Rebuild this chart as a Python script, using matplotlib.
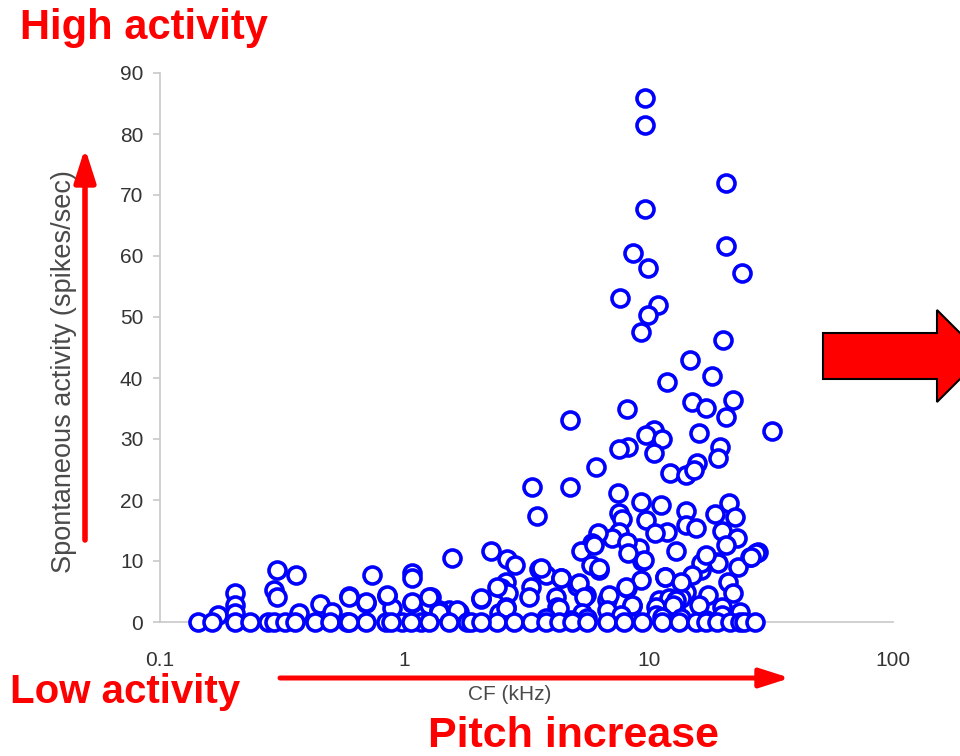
import numpy as np
import matplotlib
matplotlib.use("Agg")
import matplotlib.pyplot as plt
from matplotlib.patches import Polygon
from matplotlib.ticker import FixedLocator, FixedFormatter

# characteristic frequency (kHz) and spontaneous rate (spikes/sec) per unit
high_cf = [9.64, 9.64, 20.8, 9.64, 20.8, 8.6, 9.9, 24.2, 7.62, 10.9, 9.9, 9.3,
           20.2, 14.8, 18.2, 11.9, 22.2, 15.0, 17.1, 8.13, 20.8, 4.76, 32.0,
           16.1, 10.5, 9.73, 11.3, 19.5, 19.3, 8.26, 7.55, 10.5, 6.08, 15.8,
           12.2, 14.2, 15.4]
high_rate = [85.9, 81.5, 72.0, 67.7, 61.6, 60.5, 58.0, 57.2, 53.1, 52.0, 50.3,
             47.5, 46.2, 43.0, 40.3, 39.3, 36.4, 36.0, 35.1, 34.9, 33.6, 33.1,
             31.3, 31.0, 31.5, 30.7, 30.0, 28.7, 26.9, 28.7, 28.4, 27.7, 25.4,
             26.1, 24.4, 24.1, 24.9]

mid_cf = [3.33, 4.76, 3.49, 1.57, 2.26, 2.63, 2.84, 7.47, 9.3, 11.2, 14.2,
          21.4, 22.6, 18.6, 7.55, 7.77, 9.73, 11.9, 14.2, 15.6, 20.0, 23.0,
          27.9, 26.1, 7.55, 7.06, 6.20, 5.85, 5.28, 9.1, 8.13, 10.6, 12.9,
          9.39, 5.79, 6.25, 3.55, 3.80, 4.37, 5.09, 2.61, 2.49, 3.30, 2.06,
          8.13, 9.3, 11.7, 14.2, 16.3, 19.0, 21.2, 23.2, 17.5, 19.9, 15.0,
          13.6, 11.0, 8.54, 6.74, 5.53, 4.17, 4.21, 3.24, 2.66, 2.61, 1.68,
          1.53, 5.97, 6.25, 3.62, 4.37, 5.18, 5.43, 6.87, 8.05, 8.26, 9.55,
          11.7, 12.1, 10.7, 8.54, 6.74, 4.29, 7.7, 12.9, 16.3, 19.3, 17.1,
          20.8, 27.6, 26.3, 15.0, 13.5, 22.2, 16.0, 12.6, 2.44, 5.33, 10.7,
          19.9, 23.7, 1.645, 2.40, 5.58, 3.80, 4.80, 11.3, 13.6, 17.1]
mid_rate = [22.1, 22.1, 17.4, 10.5, 11.6, 10.3, 9.3, 21.1, 19.7, 19.2, 18.2,
            19.5, 17.2, 17.7, 17.9, 16.9, 16.7, 14.8, 15.9, 15.4, 14.9, 13.8,
            11.5, 10.7, 14.8, 13.8, 14.6, 13.0, 11.6, 12.1, 13.1, 14.6, 11.6,
            10.0, 9.3, 8.5, 8.7, 7.7, 7.2, 5.9, 6.6, 5.6, 5.7, 3.8,
            5.6, 6.9, 7.4, 4.9, 8.5, 9.8, 6.6, 9.0, 4.4, 2.5, 2.3,
            3.9, 3.6, 2.6, 3.6, 4.4, 4.1, 2.5, 4.1, 4.8, 2.5, 1.6,
            2.0, 12.6, 8.9, 8.9, 7.2, 6.4, 4.1, 4.4, 5.7, 11.3, 10.2,
            7.4, 3.9, 2.5, 2.8, 2.0, 2.3, 1.1, 3.6, 9.7, 9.7, 11.0,
            12.6, 11.3, 10.7, 7.7, 6.6, 4.8, 2.8, 2.8, 1.5, 1.5, 1.1,
            1.1, 1.6, 2.0, 5.7, 0.7, 0.7, 0.3, 0.8, 0.7, 0.3]

low_cf = [0.172, 0.202, 0.202, 0.202, 0.300, 0.292, 0.300, 0.359, 0.372,
          0.450, 0.504, 0.591, 0.700, 0.740, 0.852, 0.893, 1.078, 1.078,
          1.078, 1.289, 1.265, 1.39, 0.596, 0.700, 0.852, 1.078, 1.265, 1.39,
          2.06, 2.61]
low_rate = [1.1, 4.8, 2.8, 1.5, 8.5, 5.2, 4.1, 7.7, 1.5,
            3.0, 1.6, 4.3, 3.1, 7.7, 4.3, 2.3, 8.0, 7.2,
            3.1, 4.1, 2.8, 2.0, 4.1, 3.3, 4.4, 3.3, 4.1, 1.6,
            3.9, 2.3]

silent_cf = [0.143, 0.163, 0.202, 0.233, 0.276, 0.292, 0.324, 0.356, 0.429,
             0.494, 0.585, 0.700, 0.844, 0.981, 1.173, 1.265, 1.81, 2.40,
             1.068, 0.596, 0.885, 1.53, 1.878, 2.06, 2.81, 3.30, 3.80, 4.29,
             4.85, 5.58, 6.74, 7.9, 9.39, 11.3, 13.3, 15.6, 17.1, 19.0, 21.6,
             23.7, 24.5, 27.3]

cf = np.array(high_cf + mid_cf + low_cf + silent_cf)
rate = np.array(high_rate + mid_rate + low_rate + [0.0] * len(silent_cf))

x_ticks = [0.1, 1, 10, 100]
x_tick_labels = ["0.1", "1", "10", "100"]
y_ticks = list(range(0, 100, 10))

plt.rcParams["font.family"] = ["Liberation Sans", "DejaVu Sans"]

fig = plt.figure(figsize=(9.6, 7.56), dpi=100)
ax = fig.add_axes([160 / 960, 134 / 756, 733 / 960, 549 / 756])

ax.scatter(cf, rate, s=150, facecolors="white", edgecolors="#0000ff",
           linewidths=2.6, clip_on=False, zorder=3)

ax.set_xscale("log")
ax.set_xlim(0.1, 100)
ax.set_ylim(0, 90)
ax.xaxis.set_major_locator(FixedLocator(x_ticks))
ax.xaxis.set_major_formatter(FixedFormatter(x_tick_labels))
ax.xaxis.set_minor_locator(FixedLocator([]))
ax.set_yticks(y_ticks)

for side in ("top", "right"):
    ax.spines[side].set_visible(False)
ax.spines["left"].set_color("#c8c8c8")
ax.spines["bottom"].set_color("#c8c8c8")
ax.spines["left"].set_linewidth(1.2)
ax.spines["bottom"].set_linewidth(1.2)
ax.tick_params(axis="x", length=0, pad=21, labelsize=15, labelcolor="#333333")
ax.tick_params(axis="y", length=5, width=1.2, color="#c8c8c8", pad=7,
               labelsize=15, labelcolor="#333333")

ax.set_ylabel("Spontaneous activity (spikes/sec)", fontsize=19.5,
              color="#4a4a4a")
ax.yaxis.set_label_coords(-0.113, 0.457)
ax.set_xlabel("CF (kHz)", fontsize=15, color="#4a4a4a")
ax.xaxis.set_label_coords(0.477, -0.115)

# red annotation arrows drawn over the axis titles
arrow_style = "-|>,head_length=1.0,head_width=0.32"
ax.annotate("", xy=(85, 608), xytext=(85, 216), xycoords="figure pixels",
            textcoords="figure pixels",
            arrowprops=dict(arrowstyle=arrow_style, color="red", lw=4,
                            mutation_scale=20, shrinkA=0, shrinkB=0))
ax.annotate("", xy=(790, 78), xytext=(280, 78), xycoords="figure pixels",
            textcoords="figure pixels",
            arrowprops=dict(arrowstyle=arrow_style, color="red", lw=3.6,
                            mutation_scale=18, shrinkA=0, shrinkB=0))

# block arrow on the right edge
block = [(823, 333), (937, 333), (937, 310), (983, 356), (937, 402),
         (937, 379), (823, 379)]
block = [(px / 960, 1 - py / 756) for px, py in block]
fig.add_artist(Polygon(block, closed=True, facecolor="red", edgecolor="black",
                       linewidth=1.5, transform=fig.transFigure))

fig.text(20 / 960, 1 - 28 / 756, "High activity", color="red", fontsize=30,
         fontweight="bold", va="center", ha="left")
fig.text(10 / 960, 1 - 692 / 756, "Low activity", color="red", fontsize=29,
         fontweight="bold", va="center", ha="left")
fig.text(573 / 960, 1 - 736 / 756, "Pitch increase", color="red", fontsize=31,
         fontweight="bold", va="center", ha="center")

fig.savefig("out.png", dpi=100)
